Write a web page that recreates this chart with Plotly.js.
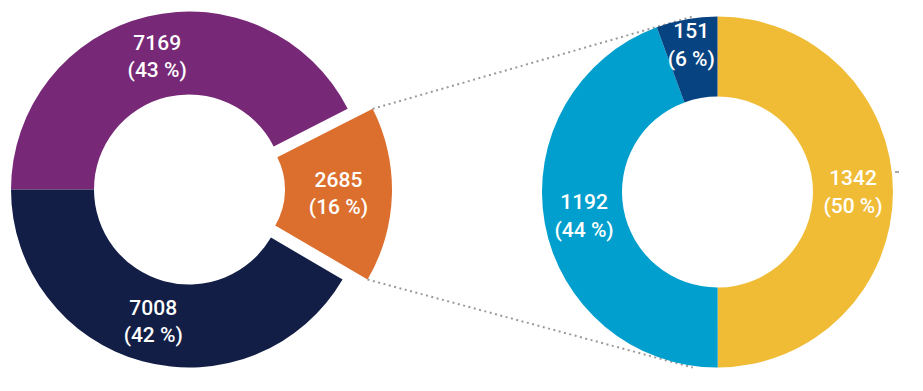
<!DOCTYPE html>
<html>
<head>
<meta charset="utf-8">
<script src="https://cdn.plot.ly/plotly-3.0.1.min.js"></script>
<style>html,body{margin:0;padding:0;background:#fff;}#chart{width:923px;height:391px;}</style>
</head>
<body>
<div id="chart"></div>
<script>
// Main breakdown (left donut)
const mainLabels = ['A', 'B', 'C'];
const mainValues = [7169, 2685, 7008];
const mainColors = ['#772877', '#DC6F2E', '#121E45'];
// Detail of slice B (right donut)
const detailLabels = ['B1', 'B2', 'B3'];
const detailValues = [1342, 1192, 151];
const detailColors = ['#F0BC36', '#009FCE', '#084381'];

const W = 923, H = 391;
const px = x => x / W;
const py = y => 1 - y / H;

function pctText(vals) {
  const tot = vals.reduce((a, b) => a + b, 0);
  return vals.map(v => v + '<br>(' + Math.round(v / tot * 100) + ' %)');
}
const mainText = pctText(mainValues);
const detailText = pctText(detailValues);

// geometry (pixels)
const L = {cx: 189, cy: 189.5, R: 178, r: 95};
const P = {cx: 214, cy: 189.5, R: 178, r: 71};   // exploded slice
const Rt = {cx: 717.5, cy: 192, R: 175.5, r: 95.5};
const dom = g => ({x: [px(g.cx - g.R), px(g.cx + g.R)], y: [py(g.cy + g.R), py(g.cy - g.R)]});

const font = {family: 'Roboto, "Open Sans", sans-serif', size: 21, color: '#ffffff', weight: 500};
const rot = -90;

const traces = [
  {
    type: 'pie', labels: mainLabels, values: mainValues, sort: false, direction: 'clockwise', rotation: rot,
    hole: L.r / L.R, domain: dom(L),
    marker: {colors: mainColors.map((c, i) => i === 1 ? 'rgba(0,0,0,0)' : c), line: {width: 0}},
    text: mainText.map((t, i) => i === 1 ? '' : t), textinfo: 'text', textposition: 'inside',
    insidetextorientation: 'horizontal', textfont: font, hoverinfo: 'none', showlegend: false
  },
  {
    type: 'pie', labels: mainLabels, values: mainValues, sort: false, direction: 'clockwise', rotation: rot,
    hole: P.r / P.R, domain: dom(P),
    marker: {colors: mainColors.map((c, i) => i === 1 ? c : 'rgba(0,0,0,0)'), line: {width: 0}},
    text: mainText.map((t, i) => i === 1 ? t : ''), textinfo: 'text', textposition: 'inside',
    insidetextorientation: 'horizontal', textfont: font, hoverinfo: 'none', showlegend: false
  },
  {
    type: 'pie', labels: detailLabels, values: detailValues, sort: false, direction: 'clockwise', rotation: 0,
    hole: Rt.r / Rt.R, domain: dom(Rt),
    marker: {colors: detailColors, line: {width: 0}},
    text: detailText, textinfo: 'text', textposition: 'inside',
    insidetextorientation: 'horizontal', textfont: font, hoverinfo: 'none', showlegend: false
  }
];

// connector lines from the exploded slice corners to the detail donut
const tot = mainValues.reduce((a, b) => a + b, 0);
const a0 = (rot + mainValues[0] / tot * 360) * Math.PI / 180;
const a1 = (rot + (mainValues[0] + mainValues[1]) / tot * 360) * Math.PI / 180;
const c0 = [P.cx + P.R * Math.sin(a0), P.cy - P.R * Math.cos(a0)];
const c1 = [P.cx + P.R * Math.sin(a1), P.cy - P.R * Math.cos(a1)];
const ea = 8 * Math.PI / 180, eR = Rt.R * 1.01;
const e0 = [Rt.cx - eR * Math.sin(ea), Rt.cy - eR * Math.cos(ea)];
const e1 = [Rt.cx - eR * Math.sin(ea), Rt.cy + eR * Math.cos(ea)];
const dotted = {color: '#9a9a9a', width: 2, dash: '2px,3.5px'};
const shapes = [
  {type: 'line', xref: 'paper', yref: 'paper', layer: 'below', x0: px(c0[0]), y0: py(c0[1]), x1: px(e0[0]), y1: py(e0[1]), line: dotted},
  {type: 'line', xref: 'paper', yref: 'paper', layer: 'below', x0: px(c1[0]), y0: py(c1[1]), x1: px(e1[0]), y1: py(e1[1]), line: dotted},
  {type: 'line', xref: 'paper', yref: 'paper', layer: 'below', x0: px(895), y0: py(172), x1: px(899), y1: py(172), line: {color: '#555', width: 1}}
];

const layout = {
  width: W, height: H, margin: {l: 0, r: 0, t: 0, b: 0},
  paper_bgcolor: '#ffffff', plot_bgcolor: '#ffffff', showlegend: false,
  uniformtext: {mode: 'show', minsize: 21},
  shapes: shapes
};
Plotly.newPlot('chart', traces, layout, {displayModeBar: false, staticPlot: true});
</script>
</body>
</html>
